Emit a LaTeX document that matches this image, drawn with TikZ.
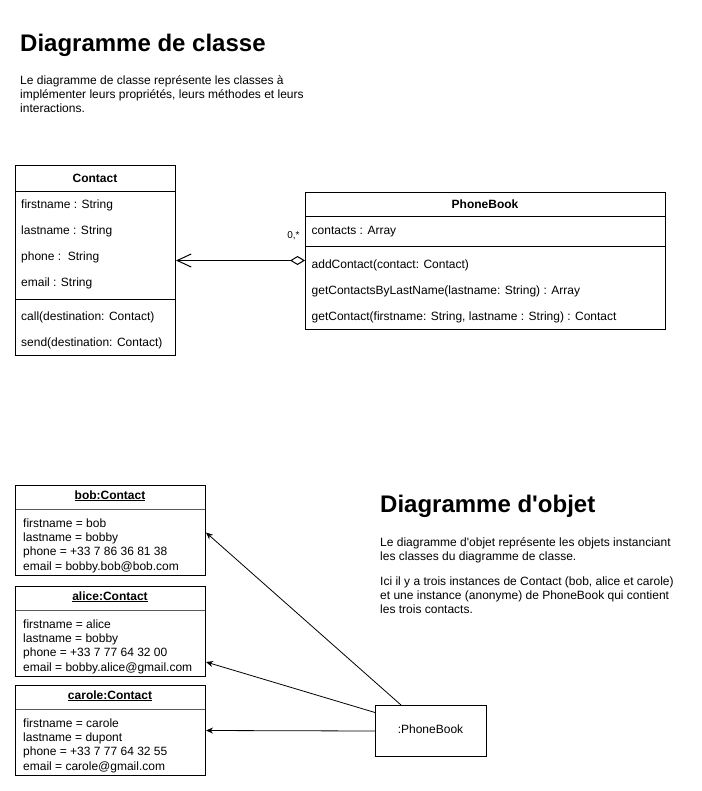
\documentclass[tikz,border=0pt]{standalone}
\usepackage{fontspec}
\setmainfont{Liberation Sans}
\newfontfamily\apofont{Liberation Sans}
\usetikzlibrary{arrows.meta,calc}
\newcommand{\sq}{{\apofont '}}
\begin{document}
\begin{tikzpicture}[x=1pt,y=-1pt,
  box/.style={draw, line width=1pt, inner sep=0pt, anchor=north west},
  txt/.style={anchor=west, inner sep=0pt, font=\fontsize{12}{14}\selectfont, text height=8.6pt, text depth=2.5pt},
  hdr/.style={anchor=center, inner sep=0pt, font=\fontsize{12}{14}\selectfont\bfseries, text height=8.6pt, text depth=2.5pt},
  ttl/.style={anchor=base west, inner sep=0pt, font=\fontsize{24}{28}\selectfont\bfseries},
  par/.style={anchor=base west, inner sep=0pt, font=\fontsize{12}{14}\selectfont},
  sep/.style={line width=1pt},
  osep/.style={line width=1.2pt, draw=black!65},
  ref/.style={line width=0.8pt, -{Stealth[length=7pt,width=6pt]}}
]
\useasboundingbox (0,0) rectangle (701,791);
\fill[white] (0,0) rectangle (701,791);

% ---- class diagram header
\node[ttl] (t1) at (20,52) {Diagramme de classe};
\node[par] (p1) at (20,84.3) {Le diagramme de classe représente les classes à};
\node[par] (p2) at (20,98.7) {implémenter leurs propriétés, leurs méthodes et leurs};
\node[par] (p3) at (20,113) {interactions.};

% ---- Contact class
\node[box, minimum width=160pt, minimum height=190pt] (contact) at (15,165) {};
\draw[sep] (15,191.5) -- (175,191.5);
\draw[sep] (15,299) -- (175,299);
\node[hdr] (cH) at (95,179) {Contact};
\node[txt] (c1) at (21,205) {firstname : String};
\node[txt] (c2) at (21,231) {lastname : String};
\node[txt] (c3) at (21,257) {phone :\ \ String};
\node[txt] (c4) at (21,283) {email : String};
\node[txt] (c5) at (21,317) {call(destination: Contact)};
\node[txt] (c6) at (21,343) {send(destination: Contact)};

% ---- PhoneBook class
\node[box, minimum width=360pt, minimum height=137pt] (pbk) at (305,192) {};
\draw[sep] (305,217) -- (665,217);
\draw[sep] (305,247) -- (665,247);
\node[hdr] (pH) at (485,205.5) {PhoneBook};
\node[txt] (q1) at (311.5,231.5) {contacts : Array};
\node[txt] (q2) at (311.5,265) {addContact(contact: Contact)};
\node[txt] (q3) at (311.5,291) {getContactsByLastName(lastname: String) : Array};
\node[txt] (q4) at (311.5,317) {getContact(firstname: String, lastname : String) : Contact};

% association
\draw[line width=1pt, {Straight Barb[length=14pt,width=13pt]}-{Diamond[open,length=15pt,width=9pt]}] (contact.east) -- (pbk.west |- contact.east);
\node[anchor=center, inner sep=0pt, font=\fontsize{10}{12}\selectfont] (mult) at (293.5,235.5) {0,*};

% ---- object diagram header
\node[ttl] (t2) at (380,512) {Diagramme d\sq objet};
\node[par] (r1) at (380,546.5) {Le diagramme d\sq objet représente les objets instanciant};
\node[par] (r2) at (380,560.5) {les classes du diagramme de classe.};
\node[par] (r3) at (380,585.5) {Ici il y a trois instances de Contact (bob, alice et carole)};
\node[par] (r4) at (380,599.5) {et une instance (anonyme) de PhoneBook qui contient};
\node[par] (r5) at (380,613) {les trois contacts.};

% ---- objects
\foreach \nm/\top/\hd/\a/\b/\c/\d in {
  bob/485/bob/bob/bobby/+33 7 86 36 81 38/bobby.bob@bob.com,
  alice/586/alice/alice/bobby/+33 7 77 64 32 00/bobby.alice@gmail.com,
  carole/685/carole/carole/dupont/+33 7 77 64 32 55/carole@gmail.com}{
  \node[box, minimum width=190pt, minimum height=90pt] (\nm) at (15,\top) {};
  \draw[osep] (15.5,\top+24.5) -- (204.5,\top+24.5);
  \node[hdr] (\nm H) at (110,\top+11) {\underline{\hd:Contact}};
  \node[txt] (\nm1) at (23,\top+39) {firstname = \a};
  \node[txt] (\nm2) at (23,\top+53.4) {lastname = \b};
  \node[txt] (\nm3) at (23,\top+67.8) {phone = \c};
  \node[txt] (\nm4) at (23,\top+82.2) {email = \d};
}

\node[box, minimum width=111pt, minimum height=51pt] (pbobj) at (375,705) {};
\node[txt, anchor=center] (pbl) at (430.5,730.5) {:PhoneBook};

\draw[ref] ($(pbobj.north west)+(26,0)$) -- ($(bob.east)+(0,2)$);
\draw[ref] ($(pbobj.north west)+(0,7.5)$) -- ($(alice.east)+(0,30.5)$);
\draw[ref] (pbobj.west) -- (carole.east);
\end{tikzpicture}
\end{document}
